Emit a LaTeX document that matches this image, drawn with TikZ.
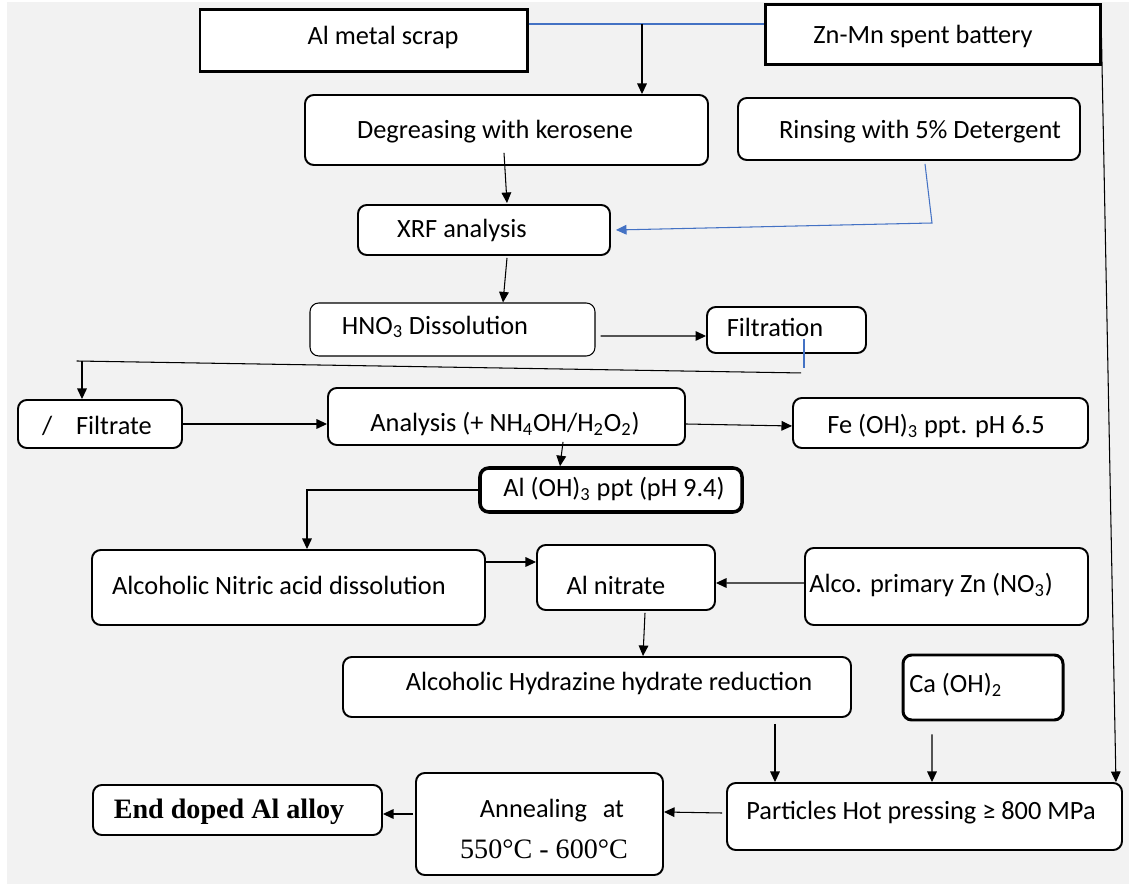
\documentclass[tikz,border=0pt]{standalone}
\usepackage{fontspec}
\setmainfont{Carlito}
\newfontfamily\timesf{Liberation Serif}
\usetikzlibrary{arrows.meta}
\definecolor{bluel}{HTML}{4472C4}
\definecolor{bggray}{HTML}{F2F2F2}
\begin{document}
\begin{tikzpicture}[x=0.02cm,y=-0.02cm,font=\fontsize{15}{18}\selectfont,
  box/.style 2 args={draw,fill=white,line width=1.1pt,rounded corners=5pt,minimum width=#1*0.02cm,minimum height=#2*0.02cm,inner sep=0pt},
  sqbox/.style 2 args={box={#1}{#2},sharp corners,line width=1.7pt},
  arr/.style={-{Triangle[length=6pt,width=5.5pt]},line width=0.6pt},
  bline/.style={line width=0.6pt,bluel}]
\useasboundingbox (0,0) rectangle (1129,884);
\fill[bggray] (7,2) rectangle (1129,884);
\node[sqbox={327}{62}] (alms) at (363.5,41) {}; \node (t-alms) at (383,37) {Al metal scrap};
\node[sqbox={335}{60}] (znmn) at (932.5,35) {}; \node (t-znmn) at (923,36) {Zn-Mn spent battery};
\node[box={403}{70}] (degr) at (506.5,130) {}; \node (t-degr) at (495,132) {Degreasing with kerosene};
\node[box={342}{62}] (rins) at (909,129) {}; \node (t-rins) at (920,132) {Rinsing with 5\% Detergent};
\node[box={252}{50}] (xrf) at (484,230) {}; \node (t-xrf) at (462,230) {XRF analysis};
\node[box={285}{53},line width=0.6pt] (hno) at (452.5,329.5) {}; \node (t-hno) at (435,327) {HNO\textsubscript{3} Dissolution};
\node[box={159}{46}] (filt) at (786.5,330) {}; \node (t-filt) at (775,327) {Filtration};
\node[box={164}{48}] (filr) at (100,424) {}; \node (t-filr) at (97,426) {/\hspace{0.9em}Filtrate};
\node[box={357}{57}] (anal) at (506.5,416.5) {}; \node (t-anal) at (505,424) {Analysis (+ NH\textsubscript{4}OH/H\textsubscript{2}O\textsubscript{2})};
\node[box={295}{50}] (feoh) at (940.5,423) {}; \node (t-feoh) at (936,426) {Fe (OH)\textsubscript{3} ppt. pH 6.5};
\node[box={262}{44},line width=2pt] (aloh) at (611,490) {}; \node (t-aloh) at (614,489) {Al (OH)\textsubscript{3} ppt (pH 9.4)};
\node[box={393}{75}] (ando) at (288.5,587.5) {}; \node (t-ando) at (279,585) {Alcoholic Nitric acid dissolution};
\node[box={178}{65}] (alni) at (626,577.5) {}; \node (t-alni) at (616,585) {Al nitrate};
\node[box={283}{77}] (alco) at (946.5,586.5) {}; \node[anchor=west,inner sep=0pt] (t-alco) at (809,585) {Alco. primary Zn (NO\textsubscript{3})};
\node[box={508}{60}] (hydr) at (597,687) {}; \node (t-hydr) at (609,683) {Alcoholic Hydrazine hydrate reduction};
\node[box={160}{65},line width=1.7pt] (caoh) at (983,687.5) {}; \node[anchor=west,inner sep=0pt] (t-caoh) at (909,685) {Ca (OH)\textsubscript{2}};
\node[box={395}{67}] (part) at (924.5,816.5) {}; \node (t-part) at (921,813) {Particles Hot pressing ≥ 800 MPa};
\node[box={247}{102}] (anne) at (539.5,824) {}; \node (t-anne) at (552,811) {Annealing\hspace{0.6em}at};
\node[font=\timesf\fontsize{16}{19}\selectfont] (t-temp) at (544,849) {550°C - 600°C};
\node[box={289}{50}] (endd) at (237.5,810) {}; \node[font=\timesf\bfseries\fontsize{16}{19}\selectfont] (t-endd) at (229,812) {End doped Al alloy};
\coordinate (jtop) at (642,24);
\draw[bline] (alms.east |- jtop) -- (znmn.west |- jtop);
\draw[arr] (jtop) -- (jtop |- degr.north);
\draw[arr] ([shift={(-2.5,-13)}]degr.south) -- ([shift={(23,-1)}]xrf.north);
\coordinate (rbend) at (932,223);
\draw[bline,arr] ([shift={(16,3)}]rins.south) -- (rbend) -- ([shift={(5,0)}]xrf.east);
\draw[arr] ([shift={(23,2)}]xrf.south) -- ([shift={(50.5,0)}]hno.north);
\draw[arr] ([shift={(5,6.5)}]hno.east) -- ([shift={(0,6)}]filt.west);
\draw[bline] ([shift={(17.5,-15)}]filt.south) -- ([shift={(17.5,14)}]filt.south);
\coordinate (fback) at (82,361);
\draw[line width=0.6pt] ([shift={(14.5,19)}]filt.south) -- ([xshift=-3]fback);
\draw[arr] (fback) -- (filr.north -| fback);
\draw[arr] (filr.east) -- (anal.west |- filr.east);
\draw[arr] (anal.east |- filr.east) -- ([shift={(0,3)}]feoh.west);
\draw[arr] ([shift={(56.5,-4)}]anal.south) -- ([shift={(-51,0)}]aloh.north);
\coordinate (abend) at (307,490);
\draw[arr] (aloh.west) -- (abend) -- (abend |- ando.north);
\draw[arr] ([shift={(0,-25.5)}]ando.east) -- ([shift={(0,-15.5)}]alni.west);
\draw[arr] ([shift={(0,-3.5)}]alco.west) -- ([shift={(0,5.5)}]alni.east);
\draw[arr] ([shift={(19,2)}]alni.south) -- ([shift={(46,0)}]hydr.north);
\draw[arr] ([shift={(178,6)}]hydr.south) -- ([shift={(-149.5,0)}]part.north);
\draw[arr] ([shift={(-51,13)}]caoh.south) -- ([shift={(7.5,0)}]part.north);
\draw[arr] ([shift={(0,3)}]znmn.east) -- ([shift={(-7,0)}]part.north east);
\draw[arr] ([shift={(-4,-3.5)}]part.west) -- ([shift={(0,-12)}]anne.east);
\draw[arr] ([shift={(-2,-10)}]anne.west) -- ([shift={(0,4)}]endd.east);
\end{tikzpicture}
\end{document}
